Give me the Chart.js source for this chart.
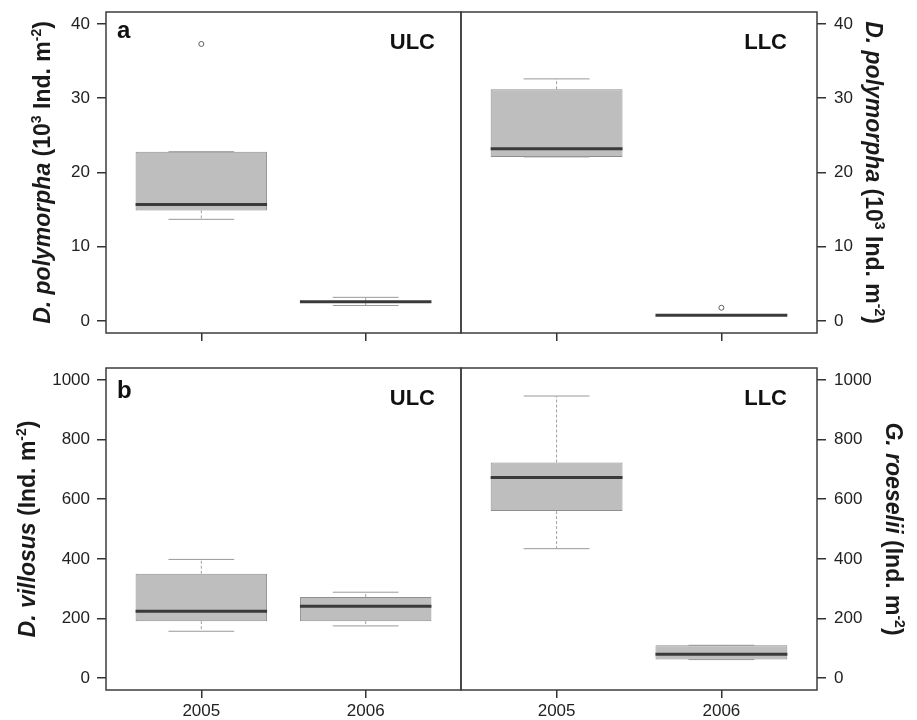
<!DOCTYPE html>
<html>
<head>
<meta charset="utf-8">
<script src="https://cdn.jsdelivr.net/npm/chart.js@4.4.1/dist/chart.umd.min.js"></script>
<style>
  html, body { margin: 0; padding: 0; background: #fff; }
  #wrap { position: relative; width: 917px; height: 720px; overflow: hidden; }
  canvas { position: absolute; }
</style>
</head>
<body>
<div id="wrap">
  <canvas id="tl" width="462" height="352" style="left:0;top:0"></canvas>
  <canvas id="tr" width="457" height="352" style="left:460px;top:0"></canvas>
  <canvas id="bl" width="462" height="368" style="left:0;top:352px"></canvas>
  <canvas id="br" width="457" height="368" style="left:460px;top:352px"></canvas>
</div>
<script>
// years on the x axis
var years = ['2005', '2006'];
var yearPos = [1, 2];

// a / ULC : D. polymorpha (10^3 ind. m-2)
var ulcDpMin = [13.7, 2.1];
var ulcDpQ1  = [14.9, 2.5];
var ulcDpMed = [15.7, 2.6];
var ulcDpQ3  = [22.8, 2.7];
var ulcDpMax = [22.8, 3.2];
var ulcDpOut = [[37.3], []];

// a / LLC : D. polymorpha (10^3 ind. m-2)
var llcDpMin = [22.1, 0.75];
var llcDpQ1  = [22.1, 0.75];
var llcDpMed = [23.2, 0.8];
var llcDpQ3  = [31.2, 0.85];
var llcDpMax = [32.6, 0.85];
var llcDpOut = [[], [1.8]];

// b / ULC : D. villosus (ind. m-2)
var ulcDvMin = [157, 175];
var ulcDvQ1  = [191, 191];
var ulcDvMed = [224, 241];
var ulcDvQ3  = [350, 272];
var ulcDvMax = [398, 288];
var ulcDvOut = [[], []];

// b / LLC : G. roeselii (ind. m-2)
var llcGrMin = [434, 62];
var llcGrQ1  = [560, 62];
var llcGrMed = [673, 80];
var llcGrQ3  = [723, 110];
var llcGrMax = [946, 110];
var llcGrOut = [[], []];

// tick labels
var dpTicks = [0, 10, 20, 30, 40];
var densTicks = [0, 200, 400, 600, 800, 1000];

var FONT = 'Liberation Sans, Arial, Helvetica, sans-serif';

function line(ctx, x1, y1, x2, y2) {
  ctx.beginPath();
  ctx.moveTo(x1, y1);
  ctx.lineTo(x2, y2);
  ctx.stroke();
}

// no extra box padding from tick labels, the layout padding decides
function noPad(s) {
  s.paddingTop = 0;
  s.paddingBottom = 0;
  s.paddingLeft = 0;
  s.paddingRight = 0;
}

// rotated axis title with italic species name and superscripts
function drawTitle(ctx, segs, cx, cy, angle, size) {
  function font(s) {
    return (s.it ? 'italic ' : '') + 'bold ' + (s.sup ? Math.round(size * 0.6) : size) + 'px ' + FONT;
  }
  ctx.save();
  ctx.translate(cx, cy);
  ctx.rotate(angle);
  var total = 0;
  segs.forEach(function (s) { ctx.font = font(s); total += ctx.measureText(s.t).width; });
  var xp = -total / 2;
  ctx.fillStyle = '#1a1a1a';
  ctx.textAlign = 'left';
  ctx.textBaseline = 'alphabetic';
  segs.forEach(function (s) {
    ctx.font = font(s);
    ctx.fillText(s.t, xp, size * 0.36 - (s.sup ? size * 0.42 : 0));
    xp += ctx.measureText(s.t).width;
  });
  ctx.restore();
}

var boxExtras = {
  id: 'boxExtras',
  afterDatasetsDraw: function (chart, args, opts) {
    var p = opts.panel, ctx = chart.ctx, y = chart.scales.y;
    var bars = chart.getDatasetMeta(0).data;
    ctx.save();
    bars.forEach(function (bar, i) {
      var w = bar.width, cx = bar.x;
      var yMin = y.getPixelForValue(p.min[i]);
      var yMax = y.getPixelForValue(p.max[i]);
      var yQ1 = y.getPixelForValue(p.q1[i]);
      var yQ3 = y.getPixelForValue(p.q3[i]);
      var yMed = y.getPixelForValue(p.med[i]);
      // whiskers
      ctx.strokeStyle = '#a0a0a0';
      ctx.lineWidth = 1;
      ctx.setLineDash([3, 2]);
      line(ctx, cx, yQ3, cx, yMax);
      line(ctx, cx, yQ1, cx, yMin);
      ctx.setLineDash([]);
      ctx.strokeStyle = '#999';
      line(ctx, cx - w / 4, yMax, cx + w / 4, yMax);
      line(ctx, cx - w / 4, yMin, cx + w / 4, yMin);
      // median
      ctx.strokeStyle = '#3a3a3a';
      ctx.lineWidth = 3;
      line(ctx, cx - w / 2, yMed, cx + w / 2, yMed);
    });
    ctx.restore();
  },
  afterDraw: function (chart, args, opts) {
    var p = opts.panel, ctx = chart.ctx, a = chart.chartArea;
    ctx.save();
    // frame
    ctx.strokeStyle = '#3c3c3c';
    ctx.lineWidth = 1.5;
    ctx.strokeRect(a.left, a.top, a.right - a.left, a.bottom - a.top);
    // panel letter and site label
    ctx.fillStyle = '#111';
    ctx.textBaseline = 'alphabetic';
    if (p.letter) {
      ctx.font = 'bold 24px ' + FONT;
      ctx.textAlign = 'left';
      ctx.fillText(p.letter, a.left + 11, a.top + p.letterDy);
    }
    ctx.font = 'bold 22px ' + FONT;
    ctx.textAlign = 'right';
    ctx.fillText(p.site, a.right - p.siteDx, a.top + 37);
    ctx.restore();
    drawTitle(ctx, p.title, p.titleX, (a.top + a.bottom) / 2,
      p.side === 'left' ? -Math.PI / 2 : Math.PI / 2, 23);
  }
};

function makePanel(canvasId, p) {
  var boxes = yearPos.map(function (x, i) {
    return { x: x, y: [p.q1[i], p.q3[i]] };
  });
  var outliers = [];
  p.out.forEach(function (vals, i) {
    vals.forEach(function (v) { outliers.push({ x: yearPos[i], y: v }); });
  });
  var tickFont = { family: FONT, size: 17 };
  return new Chart(document.getElementById(canvasId), {
    type: 'bar',
    data: {
      datasets: [
        {
          type: 'bar',
          data: boxes,
          backgroundColor: '#bebebe',
          borderColor: '#8e8e8e',
          borderWidth: 1,
          borderSkipped: false,
          barPercentage: 0.8,
          categoryPercentage: 1
        },
        {
          type: 'scatter',
          data: outliers,
          pointStyle: 'circle',
          pointRadius: 2.5,
          pointBorderWidth: 1,
          borderColor: '#5e5e5e',
          backgroundColor: '#ffffff'
        }
      ]
    },
    plugins: [boxExtras],
    options: {
      responsive: false,
      animation: false,
      layout: { padding: p.pad, autoPadding: false },
      plugins: {
        legend: { display: false },
        tooltip: { enabled: false },
        boxExtras: { panel: p }
      },
      scales: {
        x: {
          type: 'linear',
          min: 0.42,
          max: 2.58,
          offset: false,
          afterBuildTicks: function (s) {
            s.ticks = yearPos.map(function (v) { return { value: v }; });
          },
          afterFit: function (s) { s.height = p.xH; noPad(s); },
          ticks: {
            autoSkip: false,
            maxRotation: 0,
            padding: 3,
            color: '#222',
            font: tickFont,
            callback: function (v, i) { return p.showYears ? years[i] : ''; }
          },
          grid: { drawOnChartArea: false, drawTicks: true, tickLength: 8, color: '#333', lineWidth: 1.5, offset: false },
          border: { display: false }
        },
        y: {
          type: 'linear',
          position: p.side,
          min: p.yMin,
          max: p.yMax,
          afterBuildTicks: function (s) {
            s.ticks = p.yTicks.map(function (v) { return { value: v }; });
          },
          afterFit: function (s) { s.width = p.yW; noPad(s); },
          ticks: {
            autoSkip: false,
            padding: p.side === 'left' ? 7 : 8,
            color: '#222',
            font: tickFont,
            callback: function (v) { return String(v); }
          },
          grid: { drawOnChartArea: false, drawTicks: true, tickLength: 9, color: '#333', lineWidth: 1.5 },
          border: { display: false }
        }
      }
    }
  });
}

var dpTitle = [
  { t: 'D. polymorpha', it: true }, { t: ' (10' }, { t: '3', sup: true },
  { t: ' Ind. m' }, { t: '-2', sup: true }, { t: ')' }
];
var dvTitle = [
  { t: 'D. villosus', it: true }, { t: ' (Ind. m' }, { t: '-2', sup: true }, { t: ')' }
];
var grTitle = [
  { t: 'G. roeselii', it: true }, { t: ' (Ind. m' }, { t: '-2', sup: true }, { t: ')' }
];

makePanel('tl', {
  min: ulcDpMin, q1: ulcDpQ1, med: ulcDpMed, q3: ulcDpQ3, max: ulcDpMax, out: ulcDpOut,
  yTicks: dpTicks, yMin: -1.6, yMax: 41.6, side: 'left', showYears: false,
  letter: 'a', letterDy: 26, site: 'ULC', siteDx: 26, title: dpTitle, titleX: 42,
  pad: { top: 12, right: 1, left: 0, bottom: 0 }, yW: 106, xH: 19
});
makePanel('tr', {
  min: llcDpMin, q1: llcDpQ1, med: llcDpMed, q3: llcDpQ3, max: llcDpMax, out: llcDpOut,
  yTicks: dpTicks, yMin: -1.6, yMax: 41.6, side: 'right', showYears: false,
  letter: '', site: 'LLC', siteDx: 30, title: dpTitle, titleX: 414,
  pad: { top: 12, right: 0, left: 1, bottom: 0 }, yW: 100, xH: 19
});
makePanel('bl', {
  min: ulcDvMin, q1: ulcDvQ1, med: ulcDvMed, q3: ulcDvQ3, max: ulcDvMax, out: ulcDvOut,
  yTicks: densTicks, yMin: -40, yMax: 1040, side: 'left', showYears: true,
  letter: 'b', letterDy: 30, site: 'ULC', siteDx: 26, title: dvTitle, titleX: 27,
  pad: { top: 16, right: 1, left: 0, bottom: 0 }, yW: 106, xH: 30
});
makePanel('br', {
  min: llcGrMin, q1: llcGrQ1, med: llcGrMed, q3: llcGrQ3, max: llcGrMax, out: llcGrOut,
  yTicks: densTicks, yMin: -40, yMax: 1040, side: 'right', showYears: true,
  letter: '', site: 'LLC', siteDx: 30, title: grTitle, titleX: 434,
  pad: { top: 16, right: 0, left: 1, bottom: 0 }, yW: 100, xH: 30
});
</script>
</body>
</html>
